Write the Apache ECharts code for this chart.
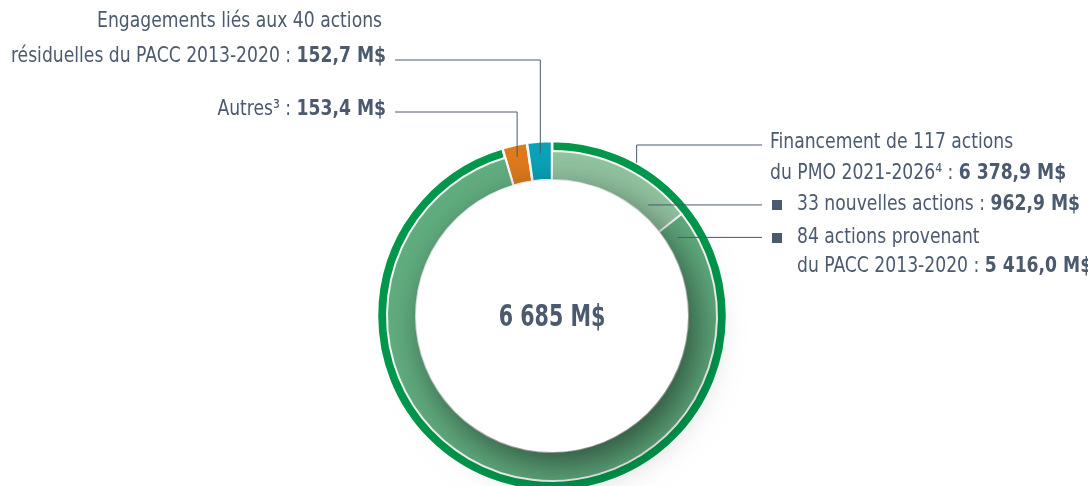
<!DOCTYPE html>
<html>
<head>
    <meta charset="utf-8">
    <title>PMO 2021-2026</title>
    <script src="https://cdn.jsdelivr.net/npm/echarts@6.0.0/dist/echarts.min.js"></script>
    <style>
        html, body { margin: 0; padding: 0; background: #fff; }
        #main { width: 1088px; height: 486px; }
    </style>
</head>
<body>
    <div id="main"></div>
    <script>
        // données (M$)
        var innerNames = ['33 nouvelles actions', '84 actions provenant du PACC 2013-2020', 'Autres', 'Engagements liés aux 40 actions résiduelles'];
        var innerValues = [962.9, 5416.0, 153.4, 152.7];
        var outerNames = ['Financement de 117 actions du PMO 2021-2026', 'Autres', 'Engagements liés aux 40 actions résiduelles'];
        var outerValues = [6378.9, 153.4, 152.7];
        var totalText = '6 685 M$';

        var FONT = '"DejaVu Sans Condensed", "DejaVu Sans", sans-serif';
        var TXT = '#4b5a6e';
        var cx = 552, cy = 316;
        var SX = 0.91; // compression horizontale du texte (police étroite)

        var myChart = echarts.init(document.getElementById('main'));

        var outerColors = ['#00984c', '#df7a1e', '#0aa3b8'];
        var innerColors = ['#93c5a2', '#62ae80', 'transparent', 'transparent'];

        var total = innerValues.reduce(function (a, b) { return a + b; }, 0);
        // angle (degrés, sens horaire depuis midi) au milieu d'une part
        function midAngle(idx) {
            var s = 0;
            for (var i = 0; i < idx; i++) s += innerValues[i];
            return (s + innerValues[idx] / 2) / total * 360;
        }
        function pt(angle, r) {
            var a = angle * Math.PI / 180;
            return [cx + r * Math.sin(a), cy - r * Math.cos(a)];
        }

        var pTeal = pt(midAngle(3), 163);
        var pOrange = pt(midAngle(2), 163);
        var pNew = pt(midAngle(0) + 15, 147);
        var pOld = pt(midAngle(0) + 32, 148);
        var pPmo = pt(midAngle(0) + 3, 175);

        function line(points) {
            return { type: 'polyline', silent: true, z: 10, shape: { points: points },
                     style: { stroke: TXT, lineWidth: 1, fill: null } };
        }
        function text(str, x, y, align) {
            return { type: 'text', silent: true, z: 10, x: x, y: y, scaleX: SX,
                     style: { text: str, align: align, verticalAlign: 'middle', fill: TXT,
                              font: '21px ' + FONT,
                              rich: { b: { font: 'bold 21px ' + FONT, fill: TXT } } } };
        }
        function bullet(x, y) {
            return { type: 'rect', silent: true, z: 10, shape: { x: x, y: y - 5, width: 10, height: 10 }, style: { fill: TXT } };
        }

        var option = {
            animation: false,
            series: [
                {
                    type: 'pie', silent: true, center: [cx, cy], radius: [136, 175],
                    startAngle: 90, clockwise: true, label: { show: false },
                    itemStyle: { borderColor: '#fff', borderWidth: 2.5 },
                    data: outerValues.map(function (v, i) {
                        return { name: outerNames[i], value: v, itemStyle: { color: outerColors[i] } };
                    })
                },
                {
                    type: 'pie', silent: true, center: [cx, cy], radius: [136, 165],
                    startAngle: 90, clockwise: true, label: { show: false },
                    data: innerValues.map(function (v, i) {
                        var shown = innerColors[i] !== 'transparent';
                        return { name: innerNames[i], value: v,
                                 itemStyle: { color: innerColors[i], borderColor: '#fafafa', borderWidth: shown ? 2 : 0 } };
                    })
                },
                {
                    // disque central avec ombre portée sur l'anneau
                    type: 'pie', silent: true, center: [cx, cy], radius: [0, 136],
                    label: { show: false }, labelLine: { show: false },
                    itemStyle: { color: '#fff', shadowColor: 'rgba(0,0,0,0.55)', shadowBlur: 42,
                                 shadowOffsetX: 10, shadowOffsetY: 14 },
                    data: [{ name: 'total', value: 1 }]
                }
            ],
            graphic: [
                line([[395, 60], [pTeal[0], 60], pTeal]),
                line([[395, 112], [pOrange[0], 112], pOrange]),
                line([pPmo, [pPmo[0], 145], [762, 145]]),
                line([pNew, [762, pNew[1]]]),
                line([pOld, [762, pOld[1]]]),
                text('Engagements liés aux 40 actions', 382, 22, 'right'),
                text('résiduelles du PACC 2013-2020 : {b|152,7 M$}', 386, 57, 'right'),
                text('Autres³ : {b|153,4 M$}', 386, 110, 'right'),
                text('Financement de 117 actions', 770, 143, 'left'),
                text('du PMO 2021-2026⁴ : {b|6 378,9 M$}', 770, 174, 'left'),
                bullet(772, 205),
                text('33 nouvelles actions : {b|962,9 M$}', 797, 205, 'left'),
                bullet(772, 238),
                text('84 actions provenant', 797, 238, 'left'),
                text('du PACC 2013-2020 : {b|5 416,0 M$}', 797, 267, 'left'),
                { type: 'text', silent: true, z: 10, x: cx, y: cy + 2, scaleX: 0.74,
                  style: { text: totalText, align: 'center', verticalAlign: 'middle', fill: TXT,
                           font: 'bold 31px ' + FONT } }
            ]
        };

        myChart.setOption(option);
    </script>
</body>
</html>
